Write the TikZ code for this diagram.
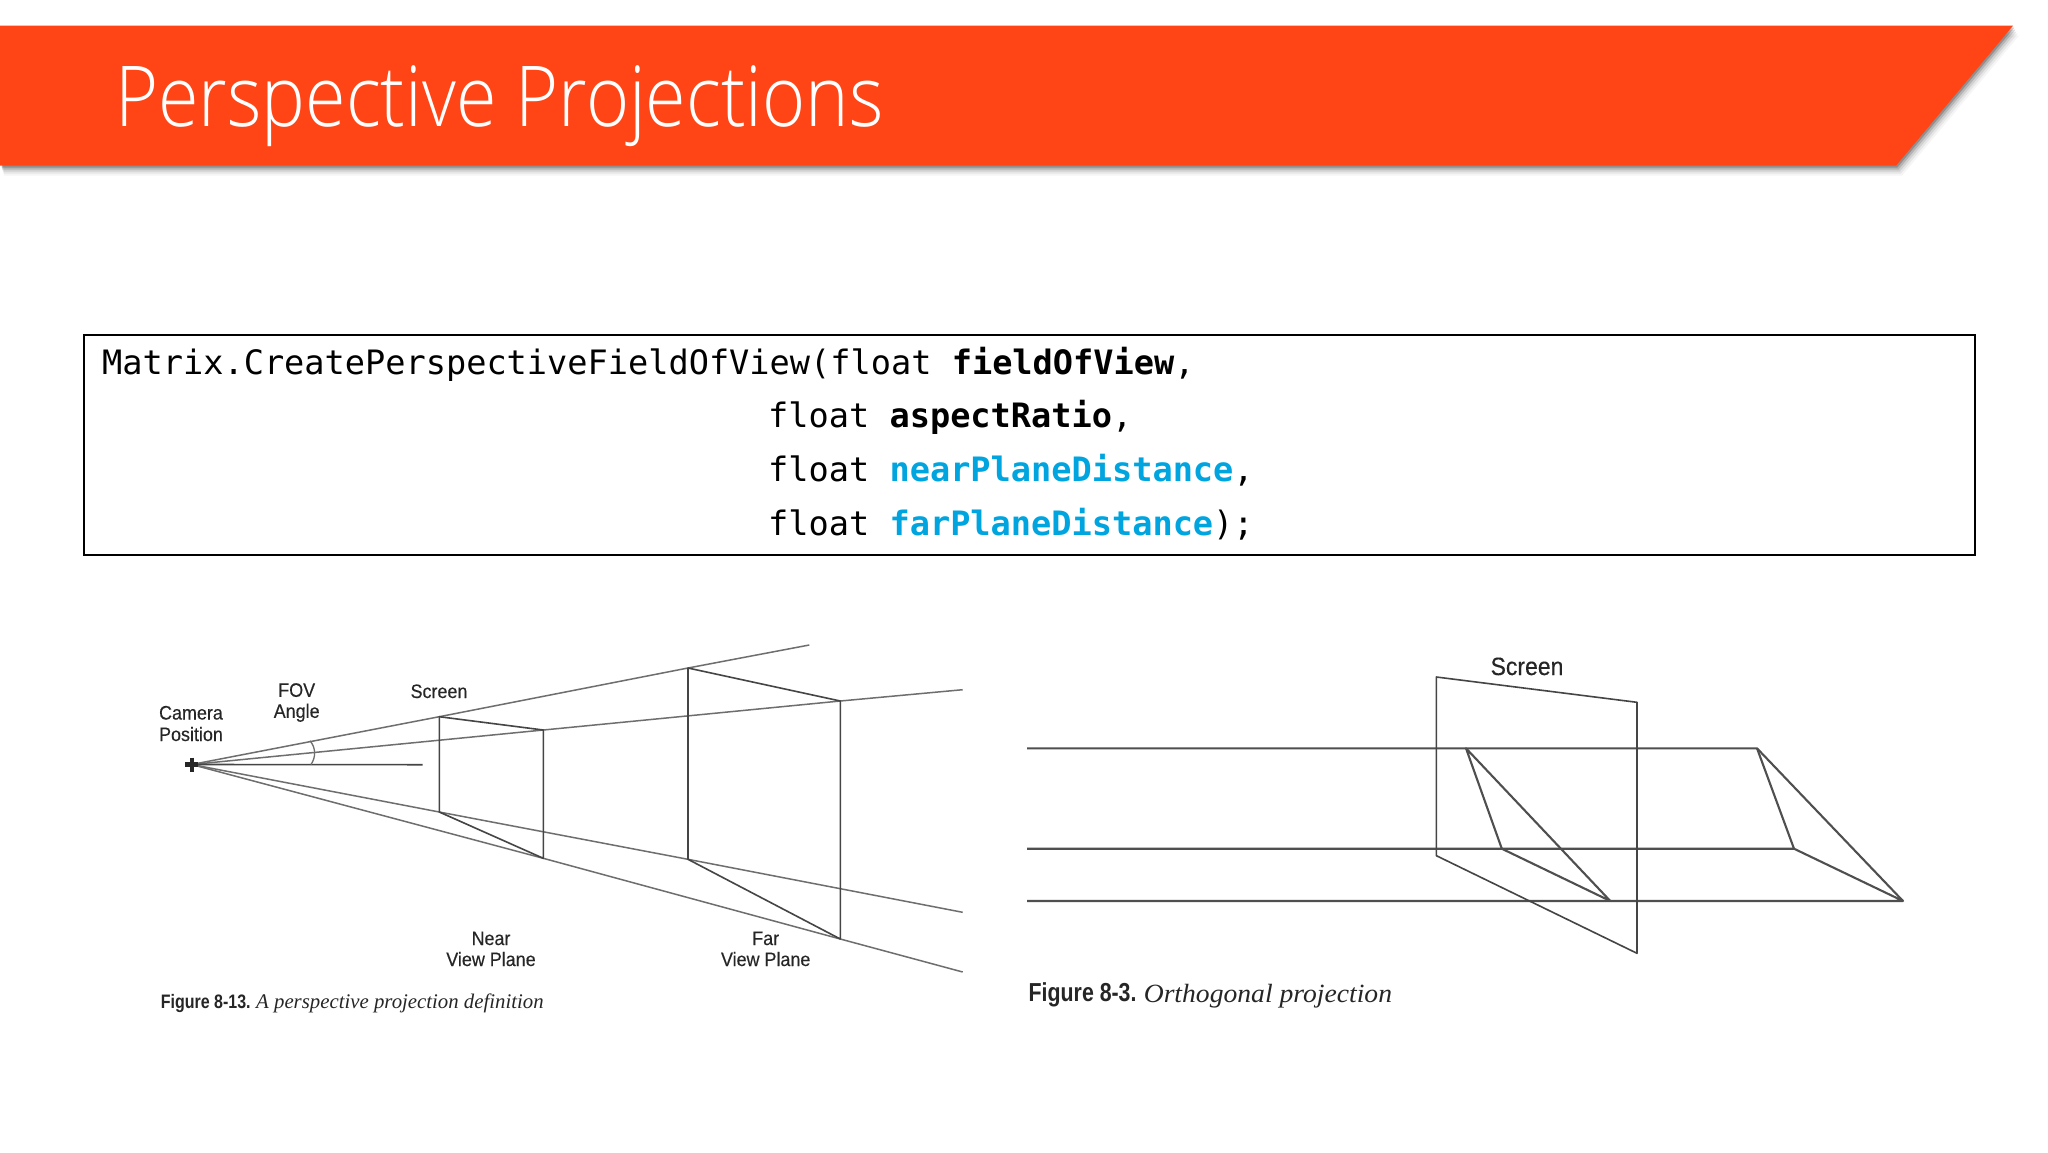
\documentclass[tikz,border=0pt]{standalone}
\usepackage{fontspec}
\setmainfont{Liberation Sans}
\newfontfamily\titlefont[FakeStretch=0.877]{Open Sans Light}
\newfontfamily\codefont{DejaVu Sans Mono}
\newfontfamily\labfont[FakeStretch=0.92,FakeBold=0.25]{Liberation Sans}
\newfontfamily\capfont[FakeStretch=0.82]{Liberation Sans}
\newfontfamily\capserif{Liberation Serif}
\newfontfamily\capserifwide[FakeStretch=1.05]{Liberation Serif}
\definecolor{banner}{HTML}{FF4516}
\definecolor{codeblue}{HTML}{00A5E0}
\definecolor{persp}{HTML}{6E6E6E}
\definecolor{frameline}{HTML}{454545}
\definecolor{ortho}{HTML}{4F4F4F}
\tikzset{
  rayline/.style={draw=persp,line width=1.5pt,line join=round},
  frameedge/.style={draw=frameline,line width=1.6pt,line join=round},
  ortholine/.style={draw=ortho,line width=2.1pt,line join=round},
  codeline/.style={anchor=base west,inner sep=0pt,font=\fontsize{33.6}{40}\selectfont\codefont,text=black},
  lab/.style={anchor=base,inner sep=0pt,text=black!85,font=\fontsize{19.5}{21.5}\selectfont\labfont,align=center},
  capnode/.style={anchor=base west,inner sep=0pt,text=black!85}
}
\begin{document}
\begin{tikzpicture}[x=1pt,y=-1pt]
\useasboundingbox[fill=white] (0,0) rectangle (2048,1152);
% banner shadow
\foreach \o/\a in {10/0.04,8/0.06,6/0.09,4/0.14,2/0.2}{
  \fill[black,opacity=\a] (0,{25.7+\o}) -- ({2013+\o*0.6},{25.7+\o}) -- ({1896+\o*0.6},{165.7+\o}) -- ({1+\o*0.3},{165.7+\o}) -- cycle;
}
\fill[banner] (0,25.7) -- (2013,25.7) -- (1896,165.7) -- (0,165.7) -- cycle;
\node[anchor=base west,inner sep=0pt,text=white,font=\fontsize{84}{84}\selectfont\titlefont] (title) at (115,126) {Perspective Projections};
% code box
\draw[black,line width=2pt] (84,334.5) rectangle (1975,555);
\node[codeline] (c1) at (102,374.5) {Matrix.CreatePerspectiveFieldOfView(float \textbf{fieldOfView},};
\node[codeline] (c2) at (768,427.5) {float \textbf{aspectRatio},};
\node[codeline] (c3) at (768,481.5) {float \textcolor{codeblue}{\textbf{nearPlaneDistance}},};
\node[codeline] (c4) at (768,535) {float \textcolor{codeblue}{\textbf{farPlaneDistance}});};
% perspective figure
\coordinate (cam) at (191.7,764.5);
\coordinate (nTL) at (439.3,716.7);
\coordinate (nTR) at (543.3,730);
\coordinate (nBL) at (439.3,812);
\coordinate (nBR) at (543.3,858.3);
\coordinate (fTL) at (688,668);
\coordinate (fTR) at (840.3,701);
\coordinate (fBL) at (688,859.3);
\coordinate (fBR) at (840.3,939);
\coordinate (e1) at (809.3,645);
\coordinate (e2) at (962.7,689.7);
\coordinate (e3) at (962.7,912.3);
\coordinate (e4) at (962.7,972);
\coordinate (axisend) at (422.7,764.7);
\coordinate (arcA) at (310,740.7);
\coordinate (arcB) at (311,764.5);
\draw[rayline] (cam) -- (nTL) -- (fTL) -- (e1);
\draw[rayline] (cam) -- (nTR) -- (fTR) -- (e2);
\draw[rayline] (cam) -- (nBL) -- (fBL) -- (e3);
\draw[rayline] (cam) -- (nBR) -- (fBR) -- (e4);
\draw[frameedge] (cam) -- (axisend);
\draw[frameedge] (nTL) -- (nTR) -- (nBR) -- (nBL) -- cycle;
\draw[frameedge] (fTL) -- (fTR) -- (fBR) -- (fBL) -- cycle;
\draw[draw=persp,line width=1.3pt] (arcA) .. controls (316,748) and (316,757) .. (arcB);
\draw[black!85,line width=4.4pt] (185,764.5) -- (198.4,764.5) (191.7,757.5) -- (191.7,771.5);
\node[lab] (camlab1) at (191,719.5) {Camera};
\node[lab] (camlab2) at (191,741) {Position};
\node[lab] (fov1) at (296.7,696.8) {FOV};
\node[lab] (fov2) at (296.7,717.8) {Angle};
\node[lab] (scr1) at (439,698) {Screen};
\node[lab] (near1) at (491,945) {Near};
\node[lab] (near2) at (491,966) {View Plane};
\node[lab] (far1) at (765.7,945) {Far};
\node[lab] (far2) at (765.7,966) {View Plane};
\node[capnode,font=\fontsize{19.5}{22}\selectfont\capfont\bfseries] (capA) at (160.7,1008) {Figure 8-13.};
\node[capnode,font=\fontsize{20.8}{22}\selectfont\capserif\itshape] (capAi) at (256,1008) {A perspective projection definition};
% orthogonal figure
\coordinate (sTL) at (1436.4,677);
\coordinate (sTR) at (1637,702.3);
\coordinate (sBR) at (1637,953.3);
\coordinate (sBL) at (1436.4,855.7);
\coordinate (l1) at (1027,748.3);
\coordinate (l2) at (1027,848.7);
\coordinate (l3) at (1027,901);
\coordinate (tA) at (1466,748.3);
\coordinate (tB) at (1501.8,848.7);
\coordinate (tC) at (1610.3,901);
\coordinate (uA) at (1757,748.3);
\coordinate (uB) at (1794,848.7);
\coordinate (uC) at (1903,901);
\draw[ortholine] (l1) -- (uA) -- (uB) -- (l2);
\draw[ortholine] (l3) -- (uC) -- (uB);
\draw[ortholine] (uA) -- (uC);
\draw[ortholine] (tA) -- (tB) -- (tC) -- cycle;
\draw[frameedge] (sTL) -- (sTR) -- (sBR) -- (sBL) -- cycle;
\node[lab,font=\fontsize{25}{27}\selectfont\labfont] (scr2) at (1527,675) {Screen};
\node[capnode,font=\fontsize{26}{26}\selectfont\capfont\bfseries] (capB) at (1028.5,1001.7) {Figure 8-3.};
\node[capnode,font=\fontsize{26.3}{27}\selectfont\capserifwide\itshape] (capBi) at (1143.6,1002.5) {Orthogonal projection};
\end{tikzpicture}
\end{document}
